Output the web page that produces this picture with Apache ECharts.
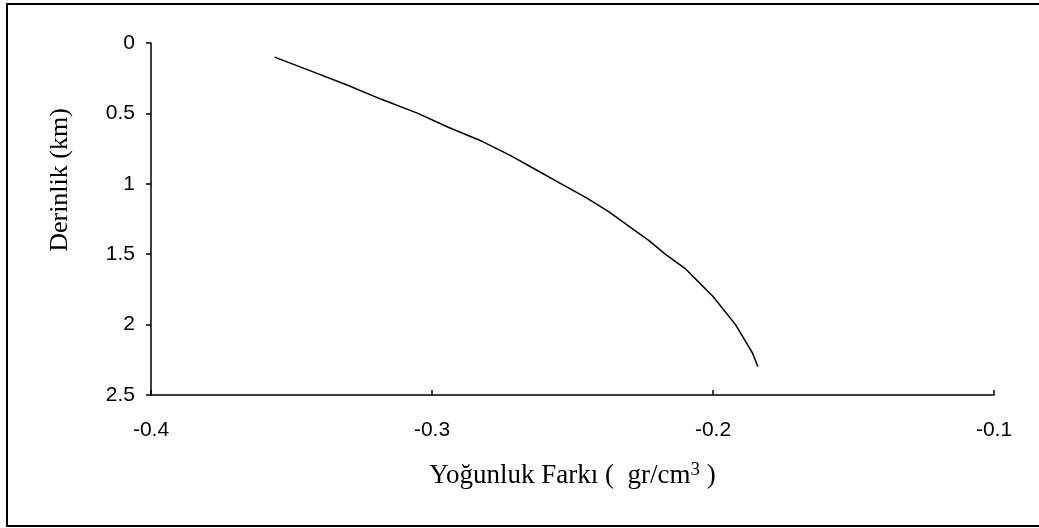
<!DOCTYPE html>
<html>
<head>
<meta charset="utf-8">
<script src="https://cdn.jsdelivr.net/npm/echarts@6/dist/echarts.min.js"></script>
<style>html,body{margin:0;padding:0;background:#fff;}#c{width:1039px;height:528px;}</style>
</head>
<body>
<div id="c"></div>
<script>
// Depth (km) and density difference (gr/cm3)
var depths = [0.1, 0.2, 0.3, 0.4, 0.5, 0.6, 0.7, 0.8, 0.9, 1.0, 1.1, 1.2, 1.3, 1.4, 1.5, 1.6, 1.7, 1.8, 1.9, 2.0, 2.1, 2.2, 2.3];
var densityDiff = [-0.356, -0.343, -0.330, -0.318, -0.305, -0.294, -0.282, -0.272, -0.263, -0.254, -0.245, -0.237, -0.230, -0.223, -0.217, -0.210, -0.205, -0.200, -0.196, -0.192, -0.189, -0.186, -0.184];
var xTicks = [-0.4, -0.3, -0.2, -0.1];
var yTicks = [0, 0.5, 1, 1.5, 2, 2.5];
var xTitle = 'Yoğunluk Farkı (  gr/cm';
var xTitleSup = '3';
var yTitle = 'Derinlik (km)';

var seriesData = depths.map(function (d, i) { return [densityDiff[i], d]; });
var chart = echarts.init(document.getElementById('c'));
var numFont = { fontFamily: '"Liberation Sans Narrow", "Arial Narrow", "Liberation Sans", sans-serif', fontSize: 21, color: '#000' };
chart.setOption({
  animation: false,
  backgroundColor: '#fff',
  grid: { left: 151, right: 45, top: 43, bottom: 133, containLabel: false },
  xAxis: {
    type: 'value', min: xTicks[0], max: xTicks[xTicks.length - 1], interval: 0.1,
    splitLine: { show: false },
    axisLine: { show: true, onZero: false, lineStyle: { color: '#000', width: 1.5 } },
    axisTick: { show: true, inside: true, length: 5, lineStyle: { color: '#000', width: 1.5 } },
    axisLabel: Object.assign({ margin: 25, formatter: function (v) { return (Math.round(v * 10) / 10).toString(); } }, numFont),
    name: '{a|' + xTitle + '}{s|' + xTitleSup + '}{a| )}',
    nameLocation: 'middle', nameGap: 66,
    nameTextStyle: {
      rich: {
        a: { fontFamily: '"Liberation Serif", "Times New Roman", serif', fontSize: 27, color: '#000' },
        s: { fontFamily: '"Liberation Serif", "Times New Roman", serif', fontSize: 19, color: '#000', verticalAlign: 'top', padding: [0, 0, 10, 0] }
      }
    }
  },
  yAxis: {
    type: 'value', inverse: true, min: yTicks[0], max: yTicks[yTicks.length - 1], interval: 0.5,
    splitLine: { show: false },
    axisLine: { show: true, onZero: false, lineStyle: { color: '#000', width: 1.5 } },
    axisTick: { show: true, inside: false, length: 5, lineStyle: { color: '#000', width: 1.5 } },
    axisLabel: Object.assign({ margin: 16 }, numFont),
    name: yTitle, nameLocation: 'middle', nameGap: 78,
    nameTextStyle: { fontFamily: '"Liberation Serif", "Times New Roman", serif', fontSize: 26, color: '#000', padding: [0, 0, 0, 78] }
  },
  series: [{
    type: 'line', data: seriesData, showSymbol: false, symbol: 'none', smooth: false,
    lineStyle: { color: '#000', width: 1.5 }
  }],
  graphic: [{
    type: 'rect', silent: true, z: 100,
    shape: { x: 7, y: 4, width: 1040, height: 522 },
    style: { fill: null, stroke: '#000', lineWidth: 2 }
  }]
});
</script>
</body>
</html>
